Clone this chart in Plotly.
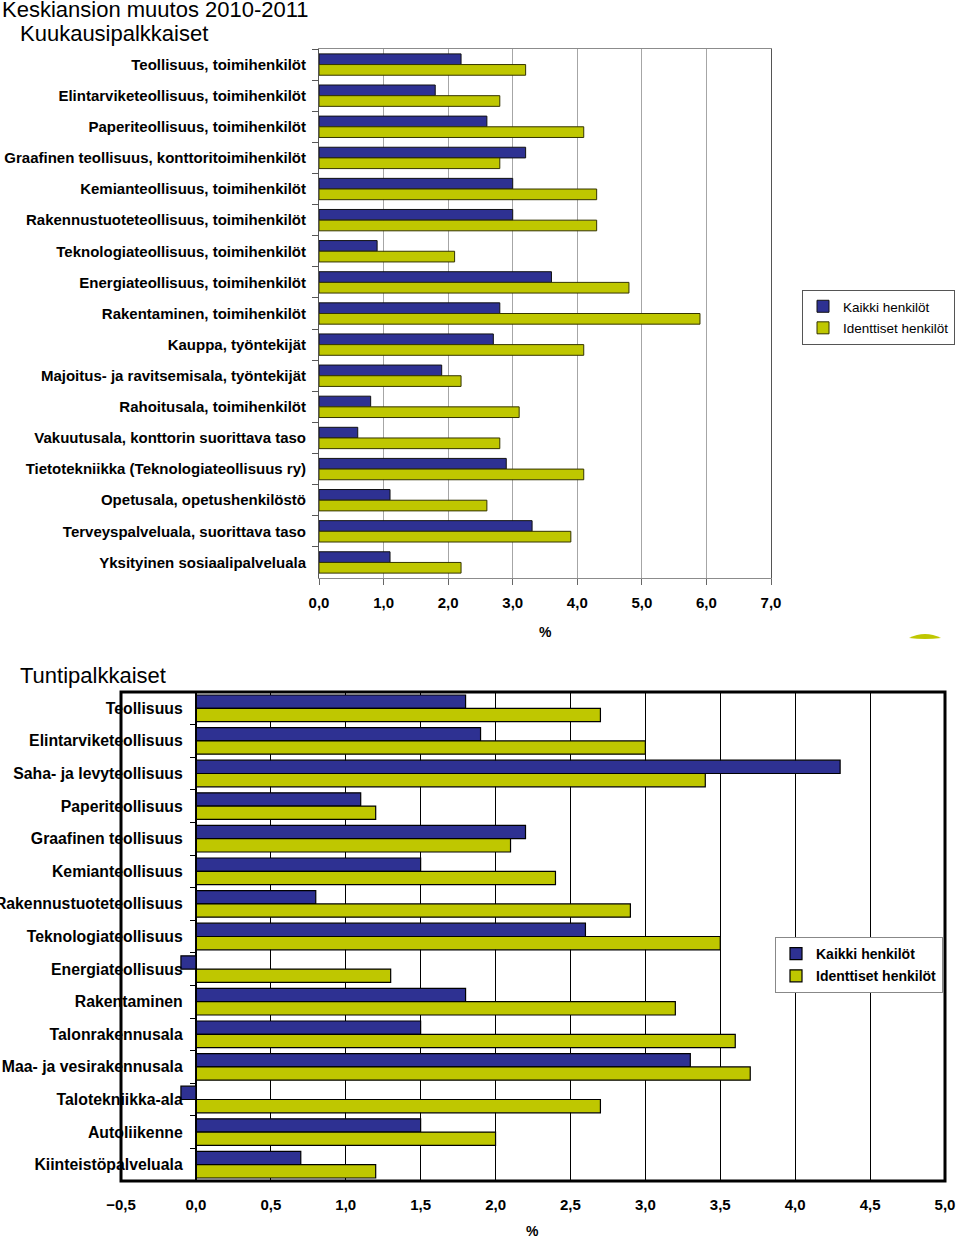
import plotly.graph_objects as go

# ---------------- data ----------------
monthly_categories = [
    "Teollisuus, toimihenkilöt",
    "Elintarviketeollisuus, toimihenkilöt",
    "Paperiteollisuus, toimihenkilöt",
    "Graafinen teollisuus, konttoritoimihenkilöt",
    "Kemianteollisuus, toimihenkilöt",
    "Rakennustuoteteollisuus, toimihenkilöt",
    "Teknologiateollisuus, toimihenkilöt",
    "Energiateollisuus, toimihenkilöt",
    "Rakentaminen, toimihenkilöt",
    "Kauppa, työntekijät",
    "Majoitus- ja ravitsemisala, työntekijät",
    "Rahoitusala, toimihenkilöt",
    "Vakuutusala, konttorin suorittava taso",
    "Tietotekniikka (Teknologiateollisuus ry)",
    "Opetusala, opetushenkilöstö",
    "Terveyspalveluala, suorittava taso",
    "Yksityinen sosiaalipalveluala",
]
monthly_all = [2.2, 1.8, 2.6, 3.2, 3.0, 3.0, 0.9, 3.6, 2.8, 2.7, 1.9, 0.8, 0.6, 2.9, 1.1, 3.3, 1.1]
monthly_identical = [3.2, 2.8, 4.1, 2.8, 4.3, 4.3, 2.1, 4.8, 5.9, 4.1, 2.2, 3.1, 2.8, 4.1, 2.6, 3.9, 2.2]

hourly_categories = [
    "Teollisuus",
    "Elintarviketeollisuus",
    "Saha- ja levyteollisuus",
    "Paperiteollisuus",
    "Graafinen teollisuus",
    "Kemianteollisuus",
    "Rakennustuoteteollisuus",
    "Teknologiateollisuus",
    "Energiateollisuus",
    "Rakentaminen",
    "Talonrakennusala",
    "Maa- ja vesirakennusala",
    "Talotekniikka-ala",
    "Autoliikenne",
    "Kiinteistöpalveluala",
]
hourly_all = [1.8, 1.9, 4.3, 1.1, 2.2, 1.5, 0.8, 2.6, -0.1, 1.8, 1.5, 3.3, -0.1, 1.5, 0.7]
hourly_identical = [2.7, 3.0, 3.4, 1.2, 2.1, 2.4, 2.9, 3.5, 1.3, 3.2, 3.6, 3.7, 2.7, 2.0, 1.2]

series_names = ["Kaikki henkilöt", "Identtiset henkilöt"]

# ---------------- style ----------------
W, H = 960, 1239
BLUE = "#2E3192"
YELLOW = "#BFC700"
FONT = "Liberation Sans"


def px_x(p):
    return p / W


def px_y(p):
    return 1 - p / H


top_x_dom = [px_x(319), px_x(771)]
top_y_dom = [px_y(578), px_y(49)]
bot_x_dom = [px_x(121), px_x(945)]
bot_y_dom = [px_y(1181), px_y(692)]
bot_range = [-0.5, 5.0]
zero_pos = bot_x_dom[0] + (0 - bot_range[0]) / (bot_range[1] - bot_range[0]) * (bot_x_dom[1] - bot_x_dom[0])

w_top = 0.343
w_bot = 0.408

fig = go.Figure()

fig.add_trace(go.Bar(
    y=monthly_categories, x=monthly_all, orientation="h", name=series_names[0],
    marker=dict(color=BLUE, line=dict(color="#111111", width=1)),
    width=w_top, offset=-w_top, xaxis="x", yaxis="y", legend="legend", legendgroup="a1",
))
fig.add_trace(go.Bar(
    y=monthly_categories, x=monthly_identical, orientation="h", name=series_names[1],
    marker=dict(color=YELLOW, line=dict(color="#333300", width=1)),
    width=w_top, offset=0, xaxis="x", yaxis="y", legend="legend", legendgroup="a2",
))
fig.add_trace(go.Bar(
    y=hourly_categories, x=hourly_all, orientation="h", name=series_names[0],
    marker=dict(color=BLUE, line=dict(color="#000000", width=1.2)),
    width=w_bot, offset=-w_bot, xaxis="x2", yaxis="y2", legend="legend2", legendgroup="b1",
))
fig.add_trace(go.Bar(
    y=hourly_categories, x=hourly_identical, orientation="h", name=series_names[1],
    marker=dict(color=YELLOW, line=dict(color="#000000", width=1.2)),
    width=w_bot, offset=0, xaxis="x2", yaxis="y2", legend="legend2", legendgroup="b2",
))

fig.update_layout(
    width=W, height=H,
    margin=dict(l=0, r=0, t=0, b=0, autoexpand=False),
    paper_bgcolor="white", plot_bgcolor="white",
    separators=", ",
    barmode="overlay",
    font=dict(family=FONT, color="black"),
    xaxis=dict(
        domain=top_x_dom, anchor="y", range=[0, 7], dtick=1, tick0=0, tickformat=".1f",
        showgrid=True, gridcolor="#A6A6A6", gridwidth=1, zeroline=False,
        showline=True, linecolor="#8C8C8C", linewidth=1, mirror=True,
        ticks="outside", ticklen=6, tickcolor="#666666",
        tickfont=dict(size=15, family=FONT, color="black", weight="bold"),
        ticklabelstandoff=5, fixedrange=True, automargin=False,
    ),
    yaxis=dict(
        domain=top_y_dom, anchor="x", type="category",
        categoryorder="array", categoryarray=monthly_categories, autorange="reversed",
        showgrid=False, zeroline=False,
        showline=True, linecolor="#555555", linewidth=1, mirror=True,
        ticks="outside", ticklen=6, tickcolor="#555555", tickson="boundaries",
        tickfont=dict(size=15, family=FONT, color="black", weight="bold"),
        ticklabelstandoff=9, fixedrange=True, automargin=False,
    ),
    xaxis2=dict(
        domain=bot_x_dom, anchor="y2", range=bot_range, dtick=0.5, tick0=0, tickformat=".1f",
        showgrid=True, gridcolor="black", gridwidth=1,
        zeroline=True, zerolinecolor="black", zerolinewidth=1,
        showline=False, ticks="",
        tickfont=dict(size=15, family=FONT, color="black", weight="bold"),
        ticklabelstandoff=13, fixedrange=True, automargin=False,
    ),
    yaxis2=dict(
        domain=bot_y_dom, anchor="free", position=zero_pos, type="category",
        categoryorder="array", categoryarray=hourly_categories, autorange="reversed",
        showgrid=False, zeroline=False,
        showline=True, linecolor="black", linewidth=1,
        ticks="outside", ticklen=6, tickcolor="black", tickson="boundaries",
        tickfont=dict(size=15.8, family=FONT, color="black", weight="bold"),
        ticklabelstandoff=10, fixedrange=True, automargin=False,
    ),
    legend=dict(
        x=px_x(955), y=px_y(290), xanchor="right", yanchor="top",
        bgcolor="white", bordercolor="#555555", borderwidth=1,
        font=dict(size=13.5, family=FONT, color="black"),
        itemwidth=30, tracegroupgap=1,
    ),
    legend2=dict(
        x=px_x(943), y=px_y(937), xanchor="right", yanchor="top",
        bgcolor="white", bordercolor="#888888", borderwidth=1,
        font=dict(size=14, family=FONT, color="black", weight="bold"),
        itemwidth=30, tracegroupgap=1,
    ),
    shapes=[
        dict(type="rect", xref="paper", yref="paper",
             x0=bot_x_dom[0], x1=bot_x_dom[1], y0=bot_y_dom[0], y1=bot_y_dom[1],
             line=dict(color="black", width=3), fillcolor="rgba(0,0,0,0)", layer="above"),
        dict(type="path", xref="paper", yref="paper",
             path="M {a},{b} Q {c},{d} {e},{b} Q {c},{f} {a},{b} Z".format(
                 a=px_x(909), b=px_y(638), c=px_x(925), d=px_y(630), e=px_x(941), f=px_y(640)),
             line=dict(color="#BFC700", width=0), fillcolor="#BFC700"),
    ],
    annotations=[
        dict(text="Keskiansion muutos 2010-2011", x=px_x(0), y=px_y(10), xref="paper", yref="paper",
             xanchor="left", yanchor="middle", showarrow=False, font=dict(size=22, family=FONT)),
        dict(text="Kuukausipalkkaiset", x=px_x(18), y=px_y(34), xref="paper", yref="paper",
             xanchor="left", yanchor="middle", showarrow=False, font=dict(size=22, family=FONT)),
        dict(text="Tuntipalkkaiset", x=px_x(18), y=px_y(675), xref="paper", yref="paper",
             xanchor="left", yanchor="middle", showarrow=False, font=dict(size=22, family=FONT)),
        dict(text="%", x=px_x(545), y=px_y(632), xref="paper", yref="paper",
             xanchor="center", yanchor="middle", showarrow=False,
             font=dict(size=14, family=FONT, weight="bold")),
        dict(text="%", x=px_x(532), y=px_y(1231), xref="paper", yref="paper",
             xanchor="center", yanchor="middle", showarrow=False,
             font=dict(size=14, family=FONT, weight="bold")),
    ],
)

fig.write_html(
    "out.html",
    config={"displayModeBar": False},
    post_script="document.body.style.margin='0';document.body.style.overflow='hidden';",
)
